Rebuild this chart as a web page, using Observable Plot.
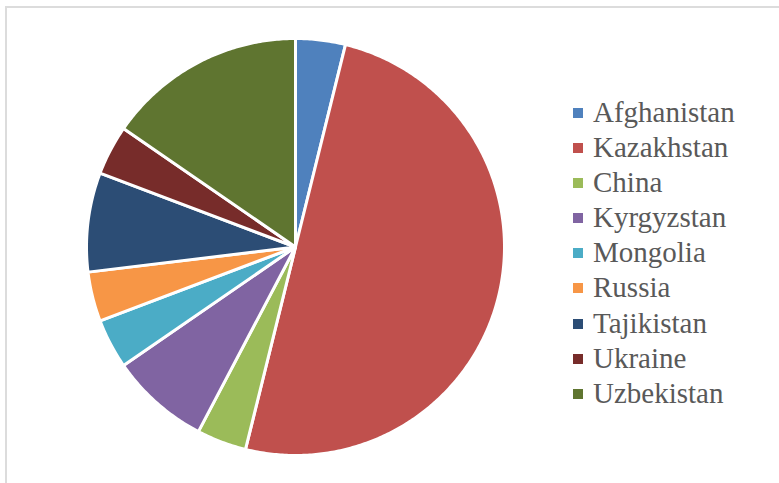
<!DOCTYPE html>
<html>
<head>
<meta charset="utf-8">
<script src="https://cdn.jsdelivr.net/npm/d3@7"></script>
<script src="https://cdn.jsdelivr.net/npm/@observablehq/plot@0.6"></script>
<style>
  html, body { margin: 0; padding: 0; background: #fff; }
  #wrap { position: relative; width: 779px; height: 483px; overflow: hidden; }
  #frame { position: absolute; left: 5px; top: 6px; width: 800px; height: 520px; border: 2px solid #dcdcdc; box-sizing: border-box; }
  #chart { position: absolute; left: 0; top: 0; }
  #legend { position: absolute; left: 573px; top: 95px; font-family: "Liberation Serif", "Tinos", "Times New Roman", "DejaVu Serif", serif; font-size: 29px; color: #595959; }
  .row { position: relative; height: 35.1px; line-height: 35.1px; padding-left: 20px; white-space: nowrap; }
  .sw { position: absolute; left: 0; top: 13px; width: 10px; height: 10px; }
</style>
</head>
<body>
<div id="wrap">
  <div id="frame"></div>
  <div id="chart"></div>
  <div id="legend"></div>
</div>
<script>
const countries = ["Afghanistan", "Kazakhstan", "China", "Kyrgyzstan", "Mongolia", "Russia", "Tajikistan", "Ukraine", "Uzbekistan"];
const values = [1, 13, 1, 2, 1, 1, 2, 1, 4];
const colors = ["#4F81BD", "#C0504D", "#9BBB59", "#8064A2", "#4BACC6", "#F79646", "#2C4D75", "#772C2A", "#5F7530"];

const data = countries.map((name, i) => ({name, value: values[i]}));
const arcs = d3.pie().sort(null).value(d => d.value).startAngle(0).endAngle(2 * Math.PI)(data);

// Build slice outlines (center + arc) in unit-circle coordinates
const pts = [];
for (const a of arcs) {
  const name = a.data.name;
  pts.push({name, x: 0, y: 0});
  const n = Math.max(4, Math.ceil((a.endAngle - a.startAngle) / 0.01));
  for (let k = 0; k <= n; k++) {
    const t = a.startAngle + (a.endAngle - a.startAngle) * k / n;
    pts.push({name, x: Math.sin(t), y: Math.cos(t)});
  }
}

const plot = Plot.plot({
  width: 779,
  height: 483,
  marginLeft: 86,
  marginRight: 275,
  marginTop: 38,
  marginBottom: 28,
  x: {domain: [-1, 1], axis: null},
  y: {domain: [-1, 1], axis: null},
  color: {domain: countries, range: colors},
  style: {background: "transparent"},
  marks: [
    Plot.line(pts, {x: "x", y: "y", z: "name", fill: "name", stroke: "white", strokeWidth: 3, strokeLinejoin: "round", curve: "linear-closed"})
  ]
});
document.getElementById("chart").appendChild(plot);

const legend = document.getElementById("legend");
countries.forEach((c, i) => {
  const row = document.createElement("div");
  row.className = "row";
  const sw = document.createElement("span");
  sw.className = "sw";
  sw.style.background = colors[i];
  row.appendChild(sw);
  row.appendChild(document.createTextNode(c));
  legend.appendChild(row);
});
</script>
</body>
</html>
